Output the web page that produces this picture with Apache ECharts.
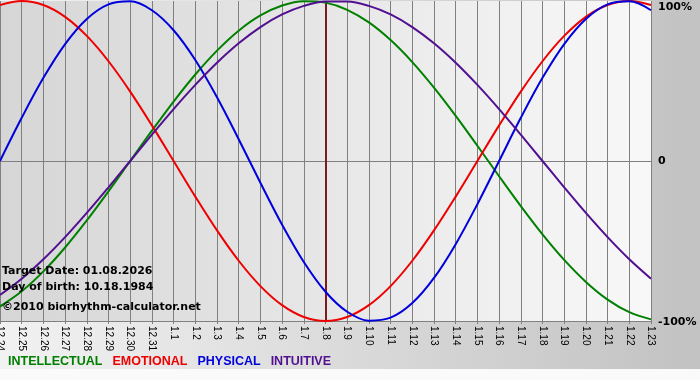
<!DOCTYPE html>
<html><head><meta charset="utf-8">
<script src="https://cdn.jsdelivr.net/npm/echarts@6/dist/echarts.min.js"></script>
<style>html,body{margin:0;padding:0;}#c{width:700px;height:380px;}</style>
</head><body><div id="c"></div>
<script>
const categories = ['12.24','12.25','12.26','12.27','12.28','12.29','12.30','12.31','1.1','1.2','1.3','1.4','1.5','1.6','1.7','1.8','1.9','1.10','1.11','1.12','1.13','1.14','1.15','1.16','1.17','1.18','1.19','1.20','1.21','1.22','1.23'];
const targetDay = '1.8';
const intellectual = [-0.9096,-0.8146,-0.6901,-0.5406,-0.3717,-0.1893,0,0.1893,0.3717,0.5406,0.6901,0.8146,0.9096,0.9718,0.9989,0.9898,0.9450,0.8660,0.7557,0.6182,0.4582,0.2817,0.0951,-0.0951,-0.2817,-0.4582,-0.6182,-0.7557,-0.8660,-0.9450,-0.9898];
const emotional = [0.9749,1,0.9749,0.9010,0.7818,0.6235,0.4339,0.2225,0,-0.2225,-0.4339,-0.6235,-0.7818,-0.9010,-0.9749,-1,-0.9749,-0.9010,-0.7818,-0.6235,-0.4339,-0.2225,0,0.2225,0.4339,0.6235,0.7818,0.9010,0.9749,1,0.9749];
const physical = [0,0.2698,0.5196,0.7308,0.8879,0.9791,0.9977,0.9423,0.8170,0.6311,0.3984,0.1362,-0.1362,-0.3984,-0.6311,-0.8170,-0.9423,-0.9977,-0.9791,-0.8879,-0.7308,-0.5196,-0.2698,0,0.2698,0.5196,0.7308,0.8879,0.9791,0.9977,0.9423];
const intuitive = [-0.8372,-0.7357,-0.6142,-0.4759,-0.3247,-0.1646,0,0.1646,0.3247,0.4759,0.6142,0.7357,0.8372,0.9158,0.9694,0.9966,0.9966,0.9694,0.9158,0.8372,0.7357,0.6142,0.4759,0.3247,0.1646,0,-0.1646,-0.3247,-0.4759,-0.6142,-0.7357];
const yTickLabels = {'1':'{top|100%}','0':'{mid|0}','-1':'{bot|-100%}'};
const infoLines = ['Target Date: 01.08.2026','Day of birth: 10.18.1984','\u00A92010 biorhythm-calculator.net'];

const colors = {INTELLECTUAL:'#008000', EMOTIONAL:'#ee0000', PHYSICAL:'#0000dd', INTUITIVE:'#501090'};
const chart = echarts.init(document.getElementById('c'), null, {renderer:'canvas'});
function mk(name, data, extra){
  return Object.assign({name, type:'line', data, smooth:0.35, symbol:'none',
    lineStyle:{width:2, color:colors[name]}, itemStyle:{color:colors[name]}, z:3}, extra||{});
}
const lblFont = {fontFamily:'DejaVu Sans',fontWeight:'bold',fontSize:11,color:'#000'};
chart.setOption({
  animation:false,
  backgroundColor:{type:'linear',x:0,y:0,x2:1,y2:0,colorStops:[{offset:0,color:'#f2f2f2'},{offset:1,color:'#c2c2c2'}]},
  grid:{left:0,right:49,top:1,bottom:59,show:true,borderWidth:0,containLabel:false,outerBoundsMode:'none',
    backgroundColor:{type:'linear',x:0,y:0,x2:1,y2:0,colorStops:[{offset:0,color:'#d6d6d6'},{offset:1,color:'#f8f8f8'}]}},
  legend:{left:3,top:355,icon:'none',itemWidth:0,itemHeight:0,itemGap:5,padding:0,
    textStyle:{fontFamily:'Liberation Sans',fontWeight:'bold',fontSize:12.5},
    data:Object.keys(colors).map(n=>({name:n,textStyle:{color:colors[n]}}))},
  xAxis:{type:'category',data:categories,boundaryGap:false,
    axisLine:{onZero:false,lineStyle:{color:'#808080'}},
    axisTick:{show:true,length:3,interval:0,lineStyle:{color:'#808080'}},
    axisLabel:{interval:0,rotate:-90,margin:5,color:'#000',fontFamily:'Liberation Sans',fontSize:10},
    splitLine:{show:true,interval:0,lineStyle:{color:'#808080',width:1}}},
  yAxis:{type:'value',position:'right',min:-1,max:1,interval:1,
    axisLine:{show:false},axisTick:{show:false},splitLine:{show:false},
    axisLabel:{margin:7,formatter:v=>yTickLabels[String(v)],
      rich:{top:Object.assign({padding:[12,0,0,0]},lblFont),
            mid:Object.assign({padding:[0,0,0,0]},lblFont),
            bot:Object.assign({padding:[2,0,0,0]},lblFont)}}},
  graphic:[{type:'rect',left:0,top:369,shape:{width:700,height:11},style:{fill:'#fafafa'},z:-1,silent:true}]
    .concat(infoLines.map((t,i)=>({type:'text',left:2,top:[266,282,302][i],z:10,
    style:{text:t,fill:'#000',font:'bold 11px "DejaVu Sans"'}}))),
  series:[
    mk('INTELLECTUAL', intellectual, {markLine:{silent:true,symbol:'none',label:{show:false},z:2,
      data:[{yAxis:0,lineStyle:{color:'#808080',width:1,type:'solid'}},
            {xAxis:targetDay,lineStyle:{color:'#7a1c1c',width:2,type:'solid'}}]}}),
    mk('EMOTIONAL', emotional),
    mk('PHYSICAL', physical),
    mk('INTUITIVE', intuitive)
  ]
});
</script></body></html>
